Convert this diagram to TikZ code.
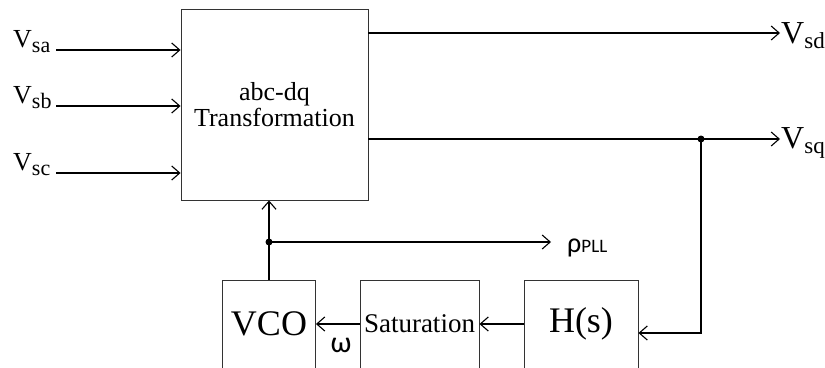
\documentclass[tikz,border=0pt]{standalone}
\usepackage{fontspec}
\setmainfont{Liberation Serif}
\newfontfamily\greekfont{Carlito}
\usetikzlibrary{arrows.meta}

\tikzset{
  blk/.style={draw=black!80, line width=0.9pt, rectangle, inner sep=0pt, align=center},
  wire/.style={line width=1.3pt},
  arr/.style={wire, -{Straight Barb[length=8pt,width=14pt,line width=1.1pt]}},
  jdot/.style={circle, fill=black, inner sep=0pt, minimum size=7pt},
  lbl/.style={inner sep=0pt, anchor=base west}
}
\newcommand{\sigV}[3]{{\fontsize{#1}{#1}\selectfont V}\raisebox{-5pt}{\fontsize{#2}{#2}\selectfont #3}}

\begin{document}
\begin{tikzpicture}[x=1pt,y=-1pt]
\useasboundingbox (0,0) rectangle (825,367);
\clip (0,0) rectangle (825,367);

% transformation block
\node[blk, minimum width=187pt, minimum height=191pt,
      font=\fontsize{26}{26}\selectfont] (tr) at (274.5,104.5) {abc-dq\\Transformation};

% loop blocks (open at the lower edge of the figure)
\node[blk, minimum width=93pt, minimum height=88pt,
      font=\fontsize{36}{36}\selectfont] (vco) at (269,324) {VCO};
\node[blk, minimum width=119pt, minimum height=88pt,
      font=\fontsize{27}{27}\selectfont] (sat) at (419.5,324) {Saturation};
\node[blk, minimum width=114pt, minimum height=88pt,
      font=\fontsize{36}{36}\selectfont] (hs) at (581,324) {H(s)};

% input signals
\node[lbl] (vsa) at (13,47) {\sigV{26}{22}{sa}};
\node[lbl] (vsb) at (13,103) {\sigV{26}{22}{sb}};
\node[lbl] (vsc) at (13,170) {\sigV{26}{22}{sc}};
\coordinate (ia) at (56,50);
\coordinate (ib) at (56,106);
\coordinate (ic) at (56,173);
\draw[arr] (ia) -- (ia -| tr.west);
\draw[arr] (ib) -- (ib -| tr.west);
\draw[arr] (ic) -- (ic -| tr.west);

% output signals
\node[lbl] (vsd) at (781,43) {\sigV{32}{23}{sd}};
\node[lbl] (vsq) at (781,148) {\sigV{32}{23}{sq}};
\coordinate (od) at (368,33);
\coordinate (oq) at (368,139);
\coordinate (td) at (780,33);
\coordinate (tq) at (780,139);
\draw[arr] (od) -- (td);
\draw[arr] (oq) -- (tq);

% feedback of the q component into H(s)
\node[jdot] (jq) at (701,139) {};
\draw[arr] (jq.center) -- (701,333) -- (hs.east |- 0,333);

% forward path of the loop
\draw[arr] (hs.west) -- (sat.east);
\draw[arr] (sat.west) -- (vco.east);
\node[inner sep=0pt, anchor=base, font=\greekfont\fontsize{30}{30}\selectfont] (w) at (341,352) {ω};

% phase output and angle feedback
\node[jdot] (jp) at (269,242) {};
\draw[wire] (vco.north) -- (jp.center);
\draw[arr] (jp.center) -- (tr.south -| jp);
\coordinate (pe) at (551,242);
\draw[arr] (jp.center) -- (pe);
\node[lbl] (rho) at (567,252) {{\greekfont\fontsize{28}{28}\selectfont ρ}{\greekfont\fontsize{19}{19}\selectfont PLL}};
\end{tikzpicture}
\end{document}
